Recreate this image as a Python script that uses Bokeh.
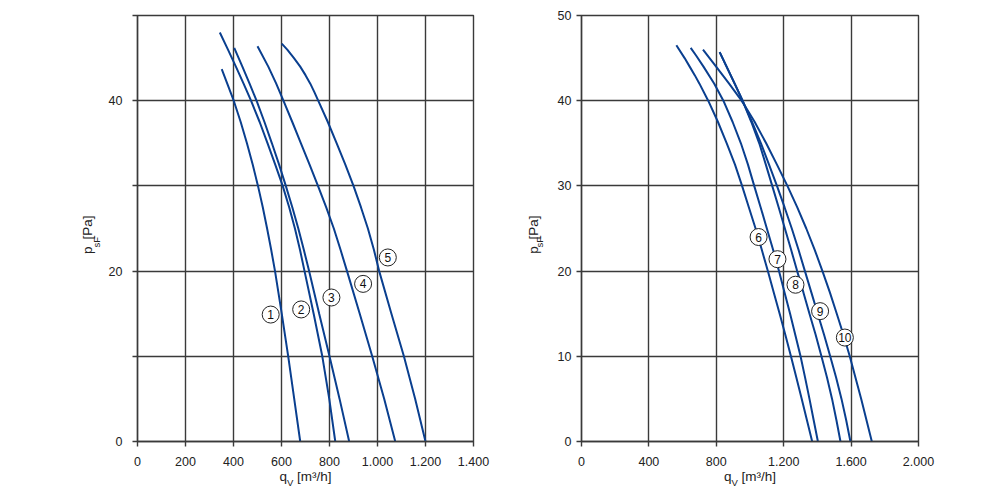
from math import pi
from bokeh.plotting import figure
from bokeh.layouts import row
from bokeh.models import FixedTicker, Range1d, LinearAxis
from bokeh.embed import file_html
from bokeh.resources import INLINE
from bokeh.core.properties import value

# ---------------- data: left chart (curves 1-5) ----------------
c1_q = [351, 374, 401, 430, 456, 480, 502, 522, 540, 557, 573, 601, 628, 653, 678]
c1_p = [43.7, 42, 40, 37.5, 35, 32.5, 30, 27.5, 25, 22.5, 20, 15, 10, 5, 0]
c2_q = [343, 377, 410, 442, 473, 509, 542, 574, 605, 632, 656, 677, 696, 734, 770, 799, 824]
c2_p = [48, 46, 44, 42, 40, 37.5, 35, 32.5, 30, 27.5, 25, 22.5, 20, 15, 10, 5, 0]
c3_q = [403, 437, 467, 496, 529, 560, 590, 618, 645, 670, 693, 715, 757, 800, 842, 882]
c3_p = [46.2, 44, 42, 40, 37.5, 35, 32.5, 30, 27.5, 25, 22.5, 20, 15, 10, 5, 0]
c4_q = [500, 545, 578, 608, 645, 681, 717, 752, 786, 818, 846, 873, 926, 978, 1028, 1074]
c4_p = [46.4, 44, 42, 40, 37.5, 35, 32.5, 30, 27.5, 25, 22.5, 20, 15, 10, 5, 0]
c5_q = [601, 624, 652, 678, 700, 720, 737, 753, 793, 830, 866, 900, 931, 960, 985, 1007,
        1058, 1110, 1157, 1200]
c5_p = [46.7, 46, 45, 44, 43, 42, 41, 40, 37.5, 35, 32.5, 30, 27.5, 25, 22.5, 20,
        15, 10, 5, 0]
left_curves = [(c1_q, c1_p), (c2_q, c2_p), (c3_q, c3_p), (c4_q, c4_p), (c5_q, c5_p)]
left_label_text = ["1", "2", "3", "4", "5"]
left_label_q = [555, 682, 808, 940, 1043]
left_label_p = [14.9, 15.5, 16.9, 18.5, 21.6]
left_xticks = [0, 200, 400, 600, 800, 1000, 1200, 1400]
left_xtick_labels = ["0", "200", "400", "600", "800", "1.000", "1.200", "1.400"]
left_yticks = [0, 10, 20, 30, 40, 50]
left_ytick_labels = ["0", "", "20", "", "40", ""]

# ---------------- data: right chart (curves 6-10) ----------------
c6_q = [563, 612, 642, 672, 700, 752, 810, 862, 911, 953, 993, 1033, 1070, 1106, 1141,
        1176, 1210, 1243, 1275, 1307, 1338, 1369]
c6_p = [46.5, 45, 44, 43, 42, 40, 37.5, 35, 32.5, 30, 27.5, 25, 22.5, 20, 17.5,
        15, 12.5, 10, 7.5, 5, 2.5, 0]
c7_q = [648, 680, 724, 788, 842, 897, 946, 988, 1025, 1063, 1100, 1137, 1172, 1205, 1238,
        1269, 1300, 1327, 1353, 1378, 1403]
c7_p = [46.2, 45.3, 44, 42, 40, 37.5, 35, 32.5, 30, 27.5, 25, 22.5, 20, 17.5, 15,
        12.5, 10, 7.5, 5, 2.5, 0]
c8_q = [820, 861, 909, 956, 1008, 1055, 1094, 1132, 1170, 1207, 1244, 1280, 1317, 1353,
        1390, 1424, 1457, 1487, 1513, 1537]
c8_p = [45.7, 44, 42, 40, 37.5, 35, 32.5, 30, 27.5, 25, 22.5, 20, 17.5, 15,
        12.5, 10, 7.5, 5, 2.5, 0]
c9_q = [820, 861, 909, 956, 1012, 1065, 1113, 1160, 1205, 1248, 1288, 1326, 1364, 1402,
        1440, 1476, 1511, 1543, 1571, 1596]
c9_p = [45.7, 44, 42, 40, 37.5, 35, 32.5, 30, 27.5, 25, 22.5, 20, 17.5, 15,
        12.5, 10, 7.5, 5, 2.5, 0]
c10_q = [721, 799, 876, 913, 950, 982, 1028, 1096, 1160, 1222, 1280, 1334, 1384, 1430,
         1474, 1515, 1555, 1592, 1660, 1723]
c10_p = [46, 44, 42, 41, 40, 39, 37.5, 35, 32.5, 30, 27.5, 25, 22.5, 20,
         17.5, 15, 12.5, 10, 5, 0]
right_curves = [(c6_q, c6_p), (c7_q, c7_p), (c8_q, c8_p), (c9_q, c9_p), (c10_q, c10_p)]
right_label_text = ["6", "7", "8", "9", "10"]
right_label_q = [1051, 1163, 1270, 1416, 1563]
right_label_p = [24.0, 21.4, 18.4, 15.3, 12.2]
right_xticks = [0, 400, 800, 1200, 1600, 2000]
right_xtick_labels = ["0", "400", "800", "1.200", "1.600", "2.000"]
right_yticks = [0, 10, 20, 30, 40, 50]
right_ytick_labels = ["0", "10", "20", "30", "40", "50"]

# axis titles (main text, subscript, unit)
x_title = ("q", "V", "[m³/h]")
y_title = ("p", "sF", "[Pa]")

FONT = "Liberation Sans"
GRID = "#3a3a3a"
CURVE = "#0a3f8f"
TXT = "#222222"
MAIN_SIZE = 13.5
SUB_SIZE = 9.5


def text_axis(ticks, labels, size, standoff, orientation=None):
    ax = LinearAxis(ticker=FixedTicker(ticks=list(ticks)),
                    major_label_overrides={t: l for t, l in zip(ticks, labels)})
    ax.axis_line_color = None
    ax.major_tick_line_color = None
    ax.major_tick_out = 0
    ax.major_tick_in = 0
    ax.minor_tick_line_color = None
    ax.major_label_text_font = FONT
    ax.major_label_text_font_size = f"{size}px"
    ax.major_label_text_color = TXT
    ax.major_label_standoff = standoff
    if orientation is not None:
        ax.major_label_orientation = orientation
    return ax


def make_chart(curves, lab_t, lab_q, lab_p, xmax, xticks, xlabels, yticks, ylabels,
               width, height, mb_left, mb_right, mb_top, mb_bottom, ystandoff,
               frame_w, frame_h, ytitle_standoff, ysub_standoff):
    p = figure(width=width, height=height, output_backend="svg", toolbar_location=None,
               x_range=Range1d(0, xmax), y_range=Range1d(0, 50),
               min_border_left=mb_left, min_border_right=mb_right,
               min_border_top=mb_top, min_border_bottom=mb_bottom)
    p.background_fill_color = "white"
    p.border_fill_color = "white"
    p.outline_line_color = GRID
    p.outline_line_width = 1.4
    for ax, ticks, labels in ((p.xaxis[0], xticks, xlabels), (p.yaxis[0], yticks, ylabels)):
        ax.ticker = FixedTicker(ticks=ticks)
        ax.major_label_overrides = {t: l for t, l in zip(ticks, labels)}
        ax.axis_line_color = GRID
        ax.axis_line_width = 1.4
        ax.major_tick_line_color = GRID
        ax.major_tick_line_width = 1.4
        ax.major_tick_out = 5
        ax.major_tick_in = 0
        ax.minor_tick_line_color = None
        ax.major_label_text_font = FONT
        ax.major_label_text_font_size = "12.5px"
        ax.major_label_text_color = TXT
    p.xaxis[0].major_label_standoff = 10
    p.yaxis[0].major_label_standoff = ystandoff
    p.xgrid.ticker = FixedTicker(ticks=xticks)
    p.ygrid.ticker = FixedTicker(ticks=yticks)
    for g in (p.xgrid[0], p.ygrid[0]):
        g.grid_line_color = GRID
        g.grid_line_width = 1.4
        g.grid_line_alpha = 1.0

    for q, pr in curves:
        p.line(q, pr, line_color=CURVE, line_width=2)

    p.scatter(lab_q, lab_p, marker="circle", size=17, fill_color="white",
              line_color="#222222", line_width=1)
    p.text(lab_q, lab_p, text=lab_t, text_font=value(FONT), text_font_size="12px",
           text_color="#111111", text_align="center", text_baseline="middle")

    # ---- x title: pieces laid out in pixels around the frame centre ----
    ux = xmax / frame_w                      # data units per pixel
    w_main, w_sub, w_sp = 0.556 * MAIN_SIZE, 0.667 * SUB_SIZE, 0.278 * MAIN_SIZE
    w_unit = 2.556 * MAIN_SIZE
    total = w_main + w_sub + w_sp + w_unit
    x0 = -total / 2
    xc = xmax / 2
    q_pos = xc + (x0 + w_main / 2) * ux
    v_pos = xc + (x0 + w_main + w_sub / 2) * ux
    u_pos = xc + (x0 + w_main + w_sub + w_sp + w_unit / 2) * ux
    p.add_layout(text_axis([q_pos, u_pos], [x_title[0], x_title[2]], MAIN_SIZE, 0), "below")
    p.add_layout(text_axis([v_pos], [x_title[1]], SUB_SIZE, -10), "below")

    # ---- y title (rotated) ----
    uy = 50 / frame_h
    h_main, h_sub, h_sp = 0.556 * MAIN_SIZE, 1.111 * SUB_SIZE, 0.35 * MAIN_SIZE
    h_unit = 1.779 * MAIN_SIZE
    tot = h_main + h_sub + h_sp + h_unit
    y0 = -tot / 2
    yc = 25.2
    p_pos = yc + (y0 + h_main / 2) * uy
    s_pos = yc + (y0 + h_main + h_sub / 2 + 0.5) * uy
    a_pos = yc + (y0 + h_main + h_sub + h_sp + h_unit / 2) * uy
    p.add_layout(text_axis([p_pos, a_pos], [y_title[0], y_title[2]], MAIN_SIZE,
                           ytitle_standoff, pi / 2), "left")
    p.add_layout(text_axis([s_pos], [y_title[1]], SUB_SIZE, ysub_standoff, pi / 2), "left")
    return p


p1 = make_chart(left_curves, left_label_text, left_label_q, left_label_p, 1400,
                left_xticks, left_xtick_labels, left_yticks, left_ytick_labels,
                width=500, height=490, mb_left=137, mb_right=27, mb_top=15, mb_bottom=49,
                ystandoff=10, frame_w=336, frame_h=426, ytitle_standoff=18,
                ysub_standoff=-27)
p2 = make_chart(right_curves, right_label_text, right_label_q, right_label_p, 2000,
                right_xticks, right_xtick_labels, right_yticks, right_ytick_labels,
                width=478, height=490, mb_left=81, mb_right=60, mb_top=11, mb_bottom=49,
                ystandoff=5, frame_w=337, frame_h=430, ytitle_standoff=21,
                ysub_standoff=-24)

layout = row(p1, p2)
open("out.html", "w").write(file_html(layout, INLINE))
